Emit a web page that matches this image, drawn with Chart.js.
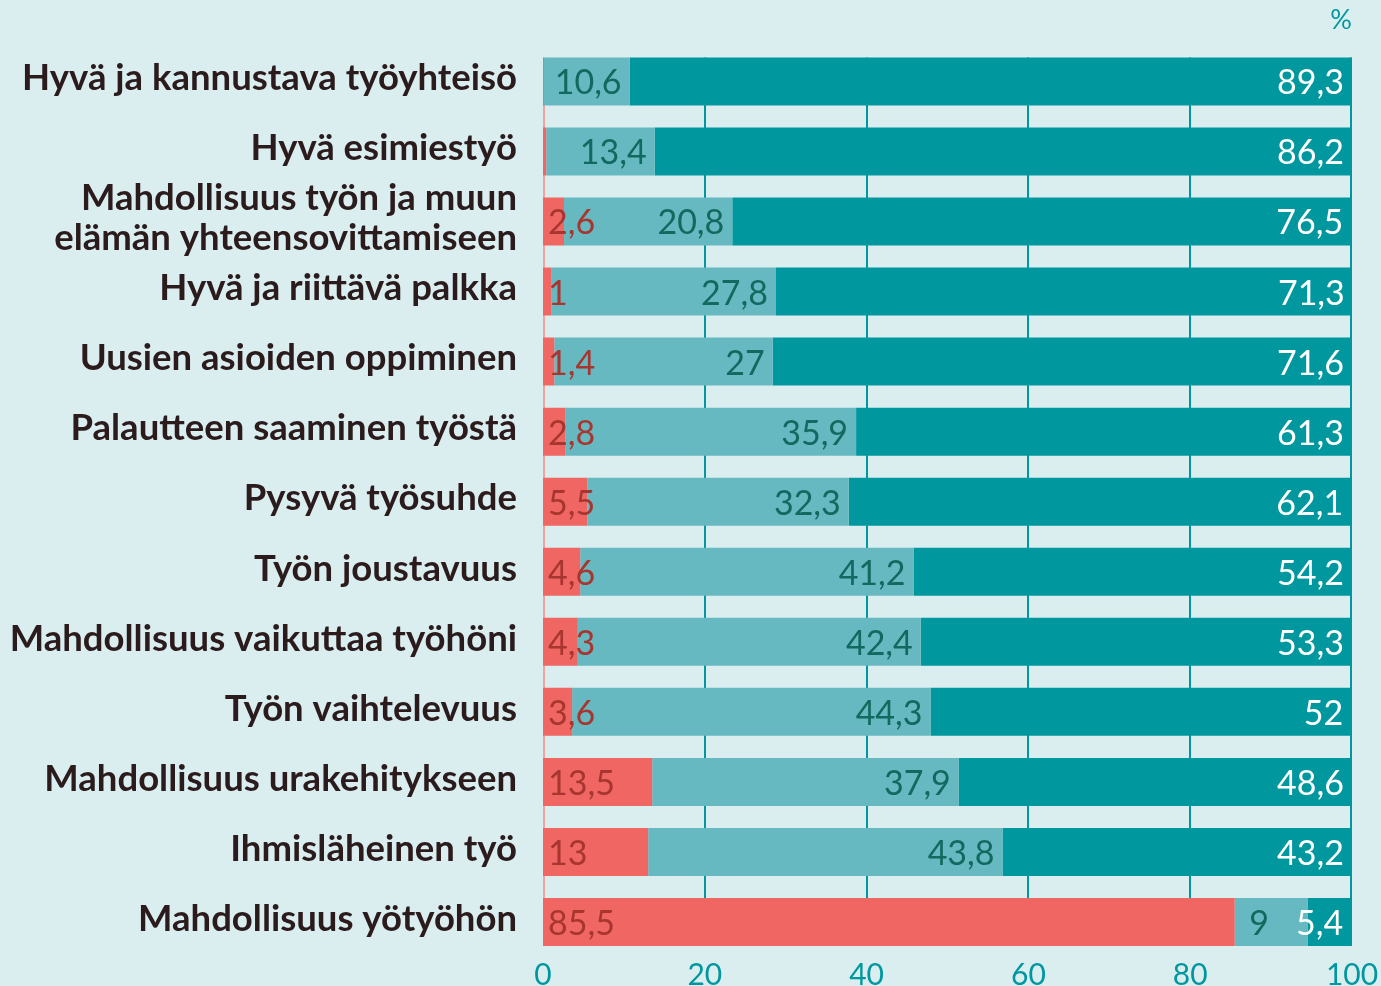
<!DOCTYPE html>
<html>
<head>
<meta charset="utf-8">
<script src="https://cdn.jsdelivr.net/npm/chart.js@4"></script>
<style>
  html, body { margin: 0; padding: 0; background: #daeef0; }
  #wrap { width: 1381px; height: 986px; }
</style>
</head>
<body>
<div id="wrap"><canvas id="chart"></canvas></div>
<script>
const CATEGORIES = [
  'Hyvä ja kannustava työyhteisö',
  'Hyvä esimiestyö',
  ['Mahdollisuus työn ja muun', 'elämän yhteensovittamiseen'],
  'Hyvä ja riittävä palkka',
  'Uusien asioiden oppiminen',
  'Palautteen saaminen työstä',
  'Pysyvä työsuhde',
  'Työn joustavuus',
  'Mahdollisuus vaikuttaa työhöni',
  'Työn vaihtelevuus',
  'Mahdollisuus urakehitykseen',
  'Ihmisläheinen työ',
  'Mahdollisuus yötyöhön',
];

// three answer groups (first two red ones are unlabelled slivers)
const RED_VALUES = [0.1, 0.4, 2.6, 1, 1.4, 2.8, 5.5, 4.6, 4.3, 3.6, 13.5, 13, 85.5];
const LIGHT_VALUES = [10.6, 13.4, 20.8, 27.8, 27, 35.9, 32.3, 41.2, 42.4, 44.3, 37.9, 43.8, 9];
const DARK_VALUES = [89.3, 86.2, 76.5, 71.3, 71.6, 61.3, 62.1, 54.2, 53.3, 52, 48.6, 43.2, 5.4];

const X_TICKS = [0, 20, 40, 60, 80, 100];

const RED = '#f06663';
const LIGHT = '#66b9c0';
const DARK = '#00979f';
const TEAL_TEXT = '#0097a0';
const FONT = 'Lato, "Open Sans", sans-serif';

const fmt = (v) => String(v).replace('.', ',');

// grid lines only between the first and last bar, like the original
const gapLines = {
  id: 'gapLines',
  beforeDatasetsDraw(chart) {
    const bars = chart.getDatasetMeta(0).data;
    if (!bars.length) return;
    const first = bars[0];
    const last = bars[bars.length - 1];
    const top = first.y - first.height / 2;
    const bottom = last.y + last.height / 2;
    const xScale = chart.scales.x;
    const ctx = chart.ctx;
    ctx.save();
    ctx.lineWidth = 2;
    X_TICKS.forEach((t) => {
      let x = Math.round(xScale.getPixelForValue(t));
      if (t === 0) x += 1;
      if (t === 100) x -= 1;
      ctx.strokeStyle = t === 0 ? '#f0a3a1' : TEAL_TEXT;
      ctx.beginPath();
      ctx.moveTo(x, top);
      ctx.lineTo(x, bottom);
      ctx.stroke();
    });
    ctx.restore();
  },
};

const valueLabels = {
  id: 'valueLabels',
  afterDatasetsDraw(chart) {
    const ctx = chart.ctx;
    ctx.save();
    ctx.font = `34px ${FONT}`;
    ctx.textBaseline = 'middle';
    chart.data.datasets.forEach((ds, di) => {
      const meta = chart.getDatasetMeta(di);
      meta.data.forEach((bar, i) => {
        const v = ds.data[i];
        if (v < 1) return;
        const y = bar.y + 2;
        if (di === 0) {
          ctx.fillStyle = '#a6362f';
          ctx.textAlign = 'left';
          ctx.fillText(fmt(v), bar.base + 5, y);
        } else if (di === 1) {
          ctx.fillStyle = '#12695f';
          if (bar.x - bar.base < 80) {
            ctx.textAlign = 'center';
            ctx.fillText(fmt(v), (bar.x + bar.base) / 2 - 12, y);
          } else {
            ctx.textAlign = 'right';
            ctx.fillText(fmt(v), bar.x - 8, y);
          }
        } else {
          ctx.fillStyle = '#ffffff';
          ctx.textAlign = 'right';
          ctx.fillText(fmt(v), bar.x - 8, y);
        }
      });
    });
    ctx.restore();
  },
};

const ctx = document.getElementById('chart').getContext('2d');
new Chart(ctx, {
  type: 'bar',
  data: {
    labels: CATEGORIES,
    datasets: [
      { label: 'red', data: RED_VALUES, backgroundColor: RED },
      { label: 'light', data: LIGHT_VALUES, backgroundColor: LIGHT },
      { label: 'dark', data: DARK_VALUES, backgroundColor: DARK },
    ],
  },
  options: {
    indexAxis: 'y',
    responsive: true,
    maintainAspectRatio: false,
    animation: false,
    layout: { padding: { left: 0, right: 29, top: 0, bottom: 0 } },
    datasets: {
      bar: { barPercentage: 0.685, categoryPercentage: 1, borderWidth: 0 },
    },
    scales: {
      x: {
        stacked: true,
        min: 0,
        max: 100,
        afterBuildTicks(scale) {
          scale.ticks = X_TICKS.map((v) => ({ value: v }));
        },
        afterFit(scale) {
          scale.height = 29;
        },
        grid: { display: false, drawTicks: false },
        border: { display: false },
        ticks: {
          padding: 0,
          color: TEAL_TEXT,
          font: { family: FONT, size: 30 },
          maxRotation: 0,
        },
      },
      y: {
        stacked: true,
        afterFit(scale) {
          scale.width = 543;
          scale.paddingTop = 0;
          scale.paddingBottom = 0;
        },
        grid: { display: false, drawTicks: false },
        border: { display: false },
        ticks: {
          autoSkip: false,
          padding: 26,
          labelOffset: -3,
          color: '#2b1b1c',
          font: { family: FONT, size: 36.5, weight: 'bold', lineHeight: 1.1 },
        },
      },
    },
    plugins: {
      legend: { display: false },
      tooltip: { enabled: false },
      title: {
        display: true,
        text: '%',
        align: 'end',
        color: TEAL_TEXT,
        font: { family: FONT, size: 27, weight: 'normal' },
        padding: { top: 4, bottom: 10 },
      },
    },
  },
  plugins: [gapLines, valueLabels],
});
</script>
</body>
</html>
